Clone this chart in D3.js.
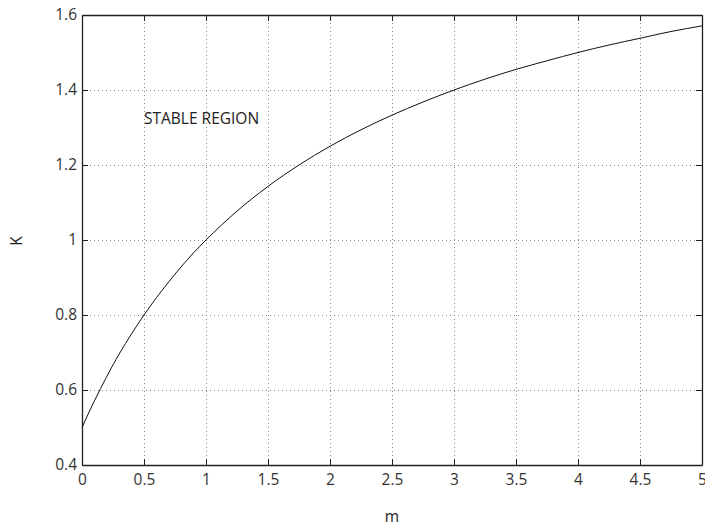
<!DOCTYPE html>
<html><head><meta charset="utf-8">
<script src="https://cdn.jsdelivr.net/npm/d3@7"></script>
<style>body{margin:0;background:#fff}svg{display:block}</style>
</head><body><svg id="c" width="705" height="529"></svg>
<script>
const mValues = [0,0.1,0.2,0.25,0.3,0.4,0.5,0.6,0.75,0.9,1,1.25,1.5,1.75,2,2.25,2.5,2.75,3,3.25,3.5,3.75,4,4.25,4.5,4.75,5];
const kValues = [0.5,0.571,0.636,0.667,0.696,0.75,0.8,0.846,0.909,0.966,1,1.077,1.143,1.2,1.25,1.294,1.333,1.368,1.4,1.429,1.455,1.478,1.5,1.52,1.538,1.556,1.571];
const xTicks = [0,0.5,1,1.5,2,2.5,3,3.5,4,4.5,5];
const yTicks = [0.4,0.6,0.8,1,1.2,1.4,1.6];
const xLabel = "m", yLabel = "K", note = "STABLE REGION";

const L=82,R=702,T=15,B=465;
const svg=d3.select("#c");
const x=d3.scaleLinear().domain([0,5]).range([L,R]);
const y=d3.scaleLinear().domain([0.4,1.6]).range([B,T]);
const font="'Open Sans', 'DejaVu Sans', sans-serif";
const g=svg.append("g");
// grid
g.selectAll(".gx").data(xTicks.slice(1,-1)).join("line").attr("x1",d=>x(d)).attr("x2",d=>x(d)).attr("y1",T).attr("y2",B)
 .attr("stroke","#888").attr("stroke-width",1).attr("stroke-dasharray","1,3").attr("shape-rendering","crispEdges");
g.selectAll(".gy").data(yTicks.slice(1,-1)).join("line").attr("y1",d=>y(d)).attr("y2",d=>y(d)).attr("x1",L).attr("x2",R)
 .attr("stroke","#888").attr("stroke-width",1).attr("stroke-dasharray","1,3").attr("shape-rendering","crispEdges");
// axes
const tl=6;
const ax=svg.append("g").attr("transform",`translate(0,${B})`).call(d3.axisBottom(x).tickValues(xTicks).tickFormat(d3.format("")).tickSizeInner(-tl).tickSizeOuter(0).tickPadding(9));
const axT=svg.append("g").attr("transform",`translate(0,${T})`).call(d3.axisTop(x).tickValues(xTicks).tickFormat("").tickSizeInner(-tl).tickSizeOuter(0));
const ay=svg.append("g").attr("transform",`translate(${L},0)`).call(d3.axisLeft(y).tickValues(yTicks).tickFormat(d3.format("")).tickSizeInner(-tl).tickSizeOuter(0).tickPadding(5));
const ayR=svg.append("g").attr("transform",`translate(${R},0)`).call(d3.axisRight(y).tickValues(yTicks).tickFormat("").tickSizeInner(-tl).tickSizeOuter(0));
[ax,axT,ay,ayR].forEach(a=>{a.selectAll("path").attr("stroke","#222").attr("stroke-width",1.3);a.selectAll("line").attr("stroke","#222");
 a.selectAll("text").attr("font-family",font).attr("font-size",15.5).attr("fill","#333");});
// curve
const pts=mValues.map((m,i)=>[m,kValues[i]]);
svg.append("path").datum(pts).attr("fill","none").attr("stroke","#111").attr("stroke-width",1)
 .attr("d",d3.line().x(d=>x(d[0])).y(d=>y(d[1])).curve(d3.curveMonotoneX));
// labels
svg.append("text").attr("x",x(0.5)).attr("y",y(1.324)).attr("dy","0.35em").attr("font-family",font).attr("font-size",15.5).attr("fill","#222").text(note);
svg.append("text").attr("x",(L+R)/2).attr("y",517).attr("dy","0.35em").attr("text-anchor","middle").attr("font-family",font).attr("font-size",15.5).attr("fill","#222").text(xLabel);
svg.append("text").attr("transform","translate(17,241) rotate(-90)").attr("dy","0.35em").attr("text-anchor","middle").attr("font-family",font).attr("font-size",15.5).attr("fill","#222").text(yLabel);
</script></body></html>
